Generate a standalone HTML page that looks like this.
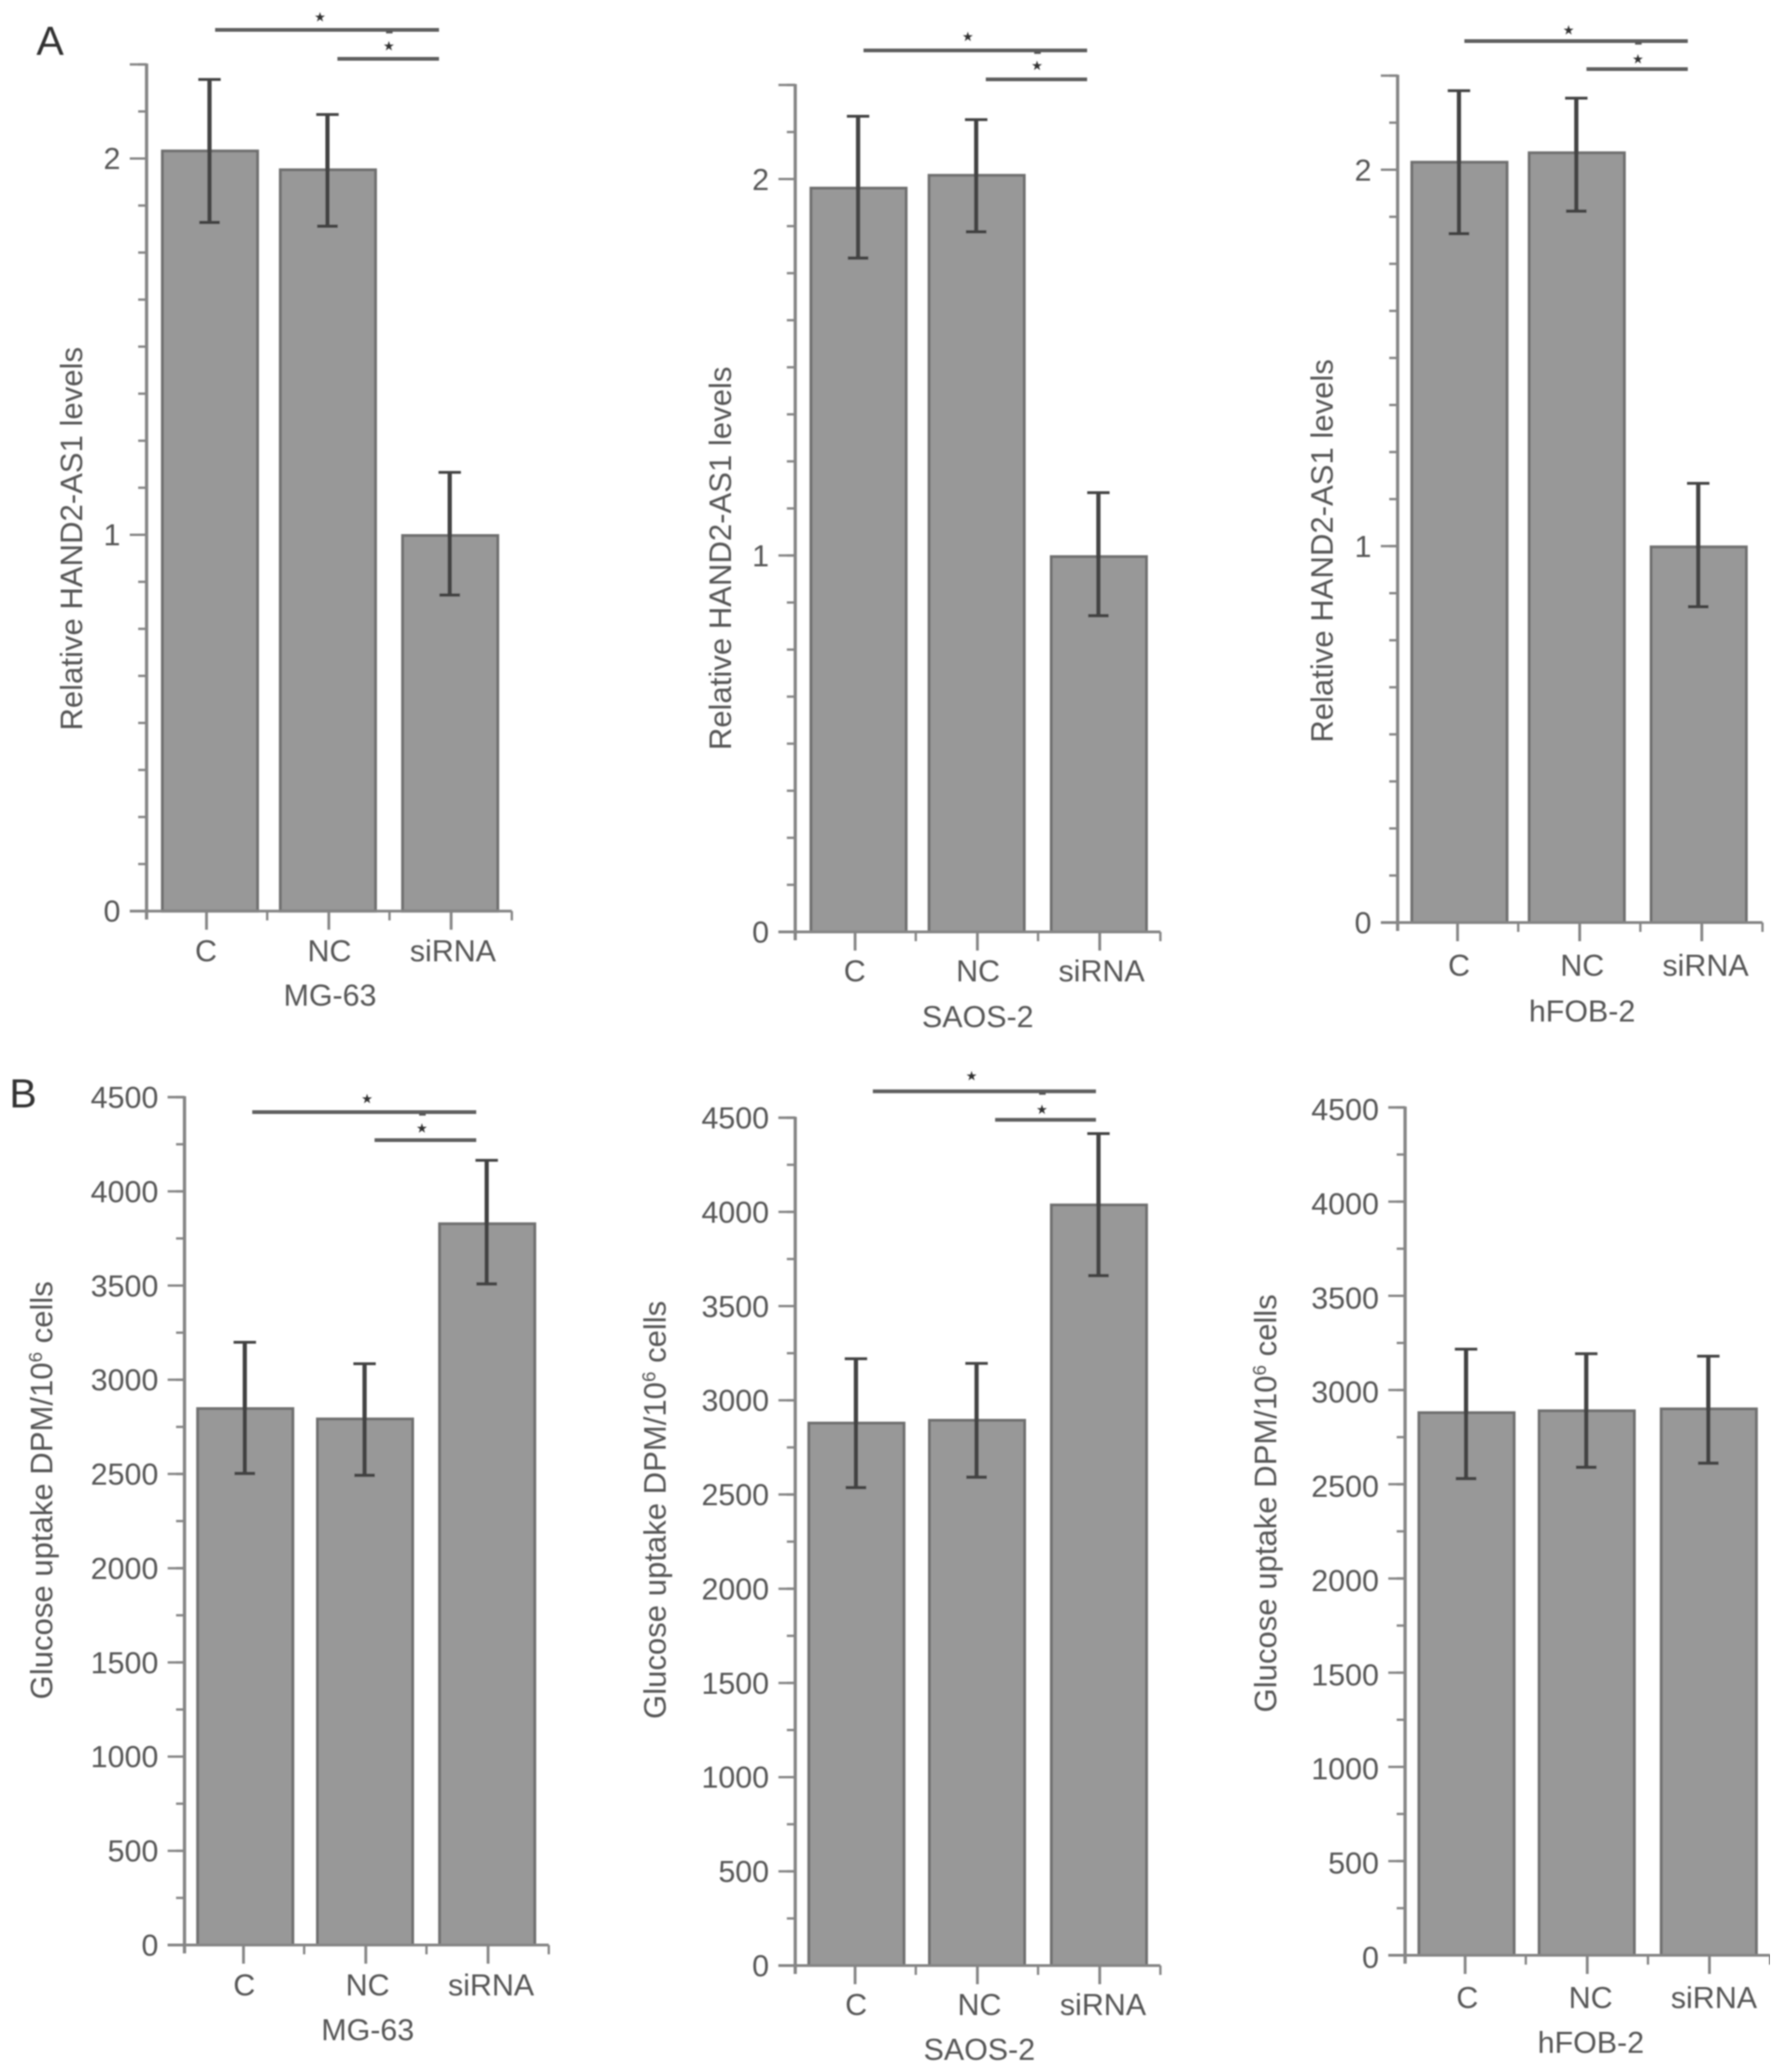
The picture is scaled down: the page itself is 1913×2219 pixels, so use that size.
<!DOCTYPE html>
<html lang="en">
<head>
<meta charset="utf-8">
<title>HAND2-AS1 levels and glucose uptake</title>
<style>
html,body{margin:0;padding:0;background:#fff;}
svg{display:block;}
text{font-family:"Liberation Sans",sans-serif;fill:#575757;font-size:32.6px;}
.letter{font-size:44px;fill:#333;}
.ytitle{font-size:33.3px;}
.star{font-family:"DejaVu Sans",sans-serif;font-size:14px;fill:#333;text-anchor:middle;}
.mid{text-anchor:middle;}
.end{text-anchor:end;}
</style>
</head>
<body>
<svg id="figure" xmlns="http://www.w3.org/2000/svg" width="1913" height="2219" viewBox="0 0 1913 2219">
<defs><filter id="soft" x="0" y="0" width="100%" height="100%"><feGaussianBlur stdDeviation="0.9"/></filter></defs>
<rect width="1913" height="2219" fill="#fff"/>
<g filter="url(#soft)">
  <text class="letter" x="39" y="59">A</text>
  <text class="letter" x="10" y="1186">B</text>

  <g id="a-mg63">
    <text class="mid ytitle" transform="translate(88 577) rotate(-90)">Relative HAND2-AS1 levels</text>
    <text class="mid" x="353.5" y="1077">MG-63</text>
  </g>
  <g id="a-saos2">
    <text class="mid ytitle" transform="translate(783 598) rotate(-90)">Relative HAND2-AS1 levels</text>
    <text class="mid" x="1047.3" y="1100">SAOS-2</text>
  </g>
  <g id="a-hfob2">
    <text class="mid ytitle" transform="translate(1427.5 590) rotate(-90)">Relative HAND2-AS1 levels</text>
    <text class="mid" x="1694.6" y="1094">hFOB-2</text>
  </g>
  <g id="b-mg63">
    <text class="mid ytitle" transform="translate(56 1596) rotate(-90)">Glucose uptake DPM/10<tspan dy="-11" font-size="20">6</tspan><tspan dy="11"> cells</tspan></text>
    <text class="mid" x="393.9" y="2185">MG-63</text>
  </g>
  <g id="b-saos2">
    <text class="mid ytitle" transform="translate(713 1617) rotate(-90)">Glucose uptake DPM/10<tspan dy="-11" font-size="20">6</tspan><tspan dy="11"> cells</tspan></text>
    <text class="mid" x="1049" y="2206">SAOS-2</text>
  </g>
  <g id="b-hfob2">
    <text class="mid ytitle" transform="translate(1367 1610) rotate(-90)">Glucose uptake DPM/10<tspan dy="-11" font-size="20">6</tspan><tspan dy="11"> cells</tspan></text>
    <text class="mid" x="1704" y="2198.5">hFOB-2</text>
  </g>
</g>
</svg>
<script>
const categories = ['C', 'NC', 'siRNA'];
const levelTickLabels = [0, 1, 2];
const glucoseTickLabels = [0, 500, 1000, 1500, 2000, 2500, 3000, 3500, 4000, 4500];

const levelMg63Values = [2.02, 1.97, 0.998];
const levelMg63Upper = [2.21, 2.117, 1.166];
const levelMg63Lower = [1.83, 1.82, 0.84];

const levelSaos2Values = [1.976, 2.01, 0.997];
const levelSaos2Upper = [2.167, 2.158, 1.167];
const levelSaos2Lower = [1.79, 1.86, 0.84];

const levelHfob2Values = [2.02, 2.045, 0.998];
const levelHfob2Upper = [2.21, 2.19, 1.167];
const levelHfob2Lower = [1.83, 1.89, 0.839];

const glucoseMg63Values = [2847, 2792, 3828];
const glucoseMg63Upper = [3199, 3085, 4165];
const glucoseMg63Lower = [2503, 2493, 3509];

const glucoseSaos2Values = [2879, 2894, 4037];
const glucoseSaos2Upper = [3221, 3196, 4416];
const glucoseSaos2Lower = [2537, 2592, 3662];

const glucoseHfob2Values = [2880, 2890, 2900];
const glucoseHfob2Upper = [3217, 3193, 3180];
const glucoseHfob2Lower = [2530, 2590, 2612];

const SVG_NS = 'http://www.w3.org/2000/svg';

function mk(parent, tag, attrs, text) {
  const el = document.createElementNS(SVG_NS, tag);
  for (const key in attrs) el.setAttribute(key, attrs[key]);
  if (text !== undefined) el.textContent = text;
  parent.appendChild(el);
  return el;
}

function hLine(parent, x1, x2, y, color, w) {
  return mk(parent, 'line', { x1: x1, x2: x2, y1: y, y2: y, stroke: color, 'stroke-width': w });
}

function vLine(parent, x, y1, y2, color, w) {
  return mk(parent, 'line', { x1: x, x2: x, y1: y1, y2: y2, stroke: color, 'stroke-width': w });
}

function drawPanel(cfg, values, upper, lower, tickLabels, domainMax, minorStep) {
  const root = document.getElementById(cfg.id).parentNode.querySelector('#' + cfg.id);
  const yScale = function (v) { return cfg.y0 - (v / domainMax) * (cfg.y0 - cfg.top); };
  const catX = function (i) { return cfg.cat0 + i * cfg.catStep; };
  const barX = function (i) { return cfg.bar0 + i * cfg.barStep + (i === 1 ? cfg.midShift : 0); };
  const barWidth = 102;
  const axisColor = '#858585';
  const yLabelShift = cfg.yLabelDy === undefined ? 11.5 : cfg.yLabelDy;

  // bars
  values.forEach(function (v, i) {
    const bar = mk(root, 'rect', {
      x: barX(i) - barWidth / 2, y: yScale(v), width: barWidth, height: cfg.y0 - yScale(v),
      fill: '#989898', stroke: '#6f6f6f', 'stroke-width': 3
    });
    
    
  });

  // y axis
  const yAxis = vLine(root, cfg.axis, cfg.top - 1, cfg.y0 + 9, axisColor, 3.5);
  
  

  for (let v = 0; v <= domainMax + 1e-9; v += minorStep) {
    const minor = hLine(root, cfg.axis - 9, cfg.axis, yScale(v), axisColor, 2.5);
    
    
  }
  const topTick = hLine(root, cfg.axis - 18, cfg.axis, cfg.top, axisColor, 2.5);
  
  

  tickLabels.forEach(function (v) {
    const tick = hLine(root, cfg.axis - 18, cfg.axis, yScale(v), axisColor, 2.5);
    
    
    const label = mk(root, 'text', { x: cfg.axis - 28, y: yScale(v) + yLabelShift, 'class': 'end' }, String(v));
    
    
  });

  // x axis
  const xAxis = hLine(root, cfg.axis - 18, catX(2) + 65, cfg.y0, axisColor, 3);
  
  

  categories.forEach(function (c, i) {
    const tick = vLine(root, catX(i), cfg.y0, cfg.y0 + 20, axisColor, 3);
    
    
    const edge = vLine(root, catX(i) + 65, cfg.y0, cfg.y0 + 10, axisColor, 2.5);
    
    
    const label = mk(root, 'text', { x: catX(i) + cfg.labelOff + i * 1.2, y: cfg.y0 + cfg.labelDy, 'class': 'mid' }, c);
    
    
  });

  // error bars
  values.forEach(function (v, i) {
    const x = barX(i) - 0.5;
    const stem = vLine(root, x, yScale(upper[i]), yScale(lower[i]), '#424242', 4.5);
    
    
    const capTop = hLine(root, x - 12, x + 12, yScale(upper[i]), '#424242', 3);
    
    
    const capBottom = hLine(root, x - 11, x + 11, yScale(lower[i]), '#424242', 3.5);
    
    
  });

  // significance brackets
  if (cfg.sig) {
    const right = catX(2) - cfg.sig.right;
    const leftA = catX(0) + cfg.sig.left;
    const leftB = catX(1) + cfg.sig.left;
    const longBar = hLine(root, leftA, right, cfg.sig.y1, '#5f5f5f', 4);
    
    
    const longStar = mk(root, 'text', { x: (leftA + right) / 2 + cfg.sig.dx1, y: cfg.sig.s1 + 5, 'class': 'star' }, '★');
    
    
    const shortBar = hLine(root, leftB, right, cfg.sig.y2, '#5f5f5f', 4);
    
    
    const shortStar = mk(root, 'text', { x: (leftB + right) / 2 + cfg.sig.dx2, y: cfg.sig.s2 + 5, 'class': 'star' }, '★');
    
    
    const bump = hLine(root, (leftB + right) / 2 + cfg.sig.dx2 - 3, (leftB + right) / 2 + cfg.sig.dx2 + 4, cfg.sig.y1 + 2.5, '#555', 2.5);
    
    
  }
}

drawPanel({ id: 'a-mg63', axis: 157, top: 69, y0: 975.7, cat0: 221.2, catStep: 131, bar0: 224.9, barStep: 128.65, midShift: -2.3, labelDy: 54, labelOff: -0.5,
  sig: { left: 9.2, right: 13, y1: 32, y2: 63, s1: 18, s2: 49, dx1: -7.5, dx2: 0.7 } },
  levelMg63Values, levelMg63Upper, levelMg63Lower, levelTickLabels, 2.25, 0.125);
drawPanel({ id: 'a-saos2', axis: 851.8, top: 91, y0: 998, cat0: 915.9, catStep: 131, bar0: 919.6, barStep: 128.7, midShift: -2.2, labelDy: 53, labelOff: -0.4,
  sig: { left: 9, right: 13.5, y1: 54, y2: 85, s1: 39, s2: 70, dx1: -8, dx2: 0.6 } },
  levelSaos2Values, levelSaos2Upper, levelSaos2Lower, levelTickLabels, 2.25, 0.125);
drawPanel({ id: 'a-hfob2', axis: 1497, top: 81, y0: 988, cat0: 1561.2, catStep: 130.8, bar0: 1563.2, barStep: 128.15, midShift: -2.45, labelDy: 57, labelOff: 1.6,
  sig: { left: 7.3, right: 15, y1: 44, y2: 74, s1: 32, s2: 63, dx1: -8, dx2: 0.8 } },
  levelHfob2Values, levelHfob2Upper, levelHfob2Lower, levelTickLabels, 2.25, 0.125);
drawPanel({ id: 'b-mg63', axis: 197.6, top: 1175, y0: 2083, cat0: 260.8, catStep: 131, bar0: 262.7, barStep: 129.55, midShift: -1.25, labelDy: 54, labelOff: 0.8,
  sig: { left: 9.4, right: 12.7, y1: 1191, y2: 1221, s1: 1176.5, s2: 1208, dx1: 3, dx2: -3.7 } },
  glucoseMg63Values, glucoseMg63Upper, glucoseMg63Lower, glucoseTickLabels, 4500, 250);
drawPanel({ id: 'b-saos2', axis: 851.8, top: 1197, y0: 2105, cat0: 915.9, catStep: 131, bar0: 917.3, barStep: 129.9, midShift: -0.7, labelDy: 53, labelOff: 1.1,
  sig: { left: 19, right: 4, y1: 1168.7, y2: 1199.3, s1: 1152, s2: 1188, dx1: -13.8, dx2: -3.9 } },
  glucoseSaos2Values, glucoseSaos2Upper, glucoseSaos2Lower, glucoseTickLabels, 4500, 250);
drawPanel({ id: 'b-hfob2', axis: 1505, top: 1186, y0: 2094, cat0: 1569.3, catStep: 130.85, bar0: 1570.8, barStep: 129.75, midShift: -1, labelDy: 56.7, labelOff: 2.4, yLabelDy: 13.5 },
  glucoseHfob2Values, glucoseHfob2Upper, glucoseHfob2Lower, glucoseTickLabels, 4500, 250);
</script>
</body>
</html>
